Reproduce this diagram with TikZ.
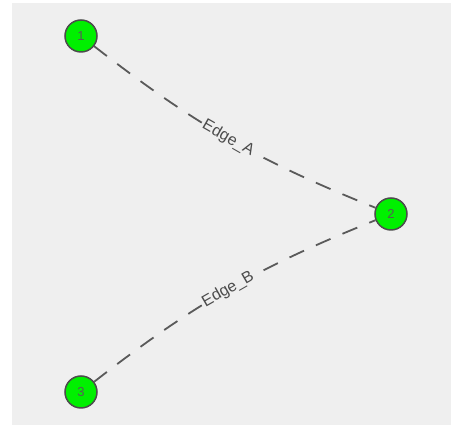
\documentclass[tikz,border=0pt]{standalone}
\usepackage{fontspec}
\setmainfont{Liberation Sans}
\usetikzlibrary{backgrounds}
\definecolor{bg}{RGB}{239,239,239}
\definecolor{nodegreen}{RGB}{0,240,0}
\definecolor{edgegray}{RGB}{90,90,90}
\definecolor{labelgray}{RGB}{75,75,75}
\tikzset{
  vertex/.style={circle, draw=black!70, line width=1.5pt, fill=nodegreen, minimum size=32pt, inner sep=0pt, font=\fontsize{13}{13}\selectfont, text=black!65},
  link/.style={draw=edgegray, line width=1.8pt, dash pattern=on 16pt off 13pt},
  elabel/.style={sloped, fill=bg, inner sep=1.5pt, text=labelgray, font=\fontsize{16}{16}\selectfont}
}
\begin{document}
\begin{tikzpicture}[x=1pt,y=1pt]
\useasboundingbox (0,0) rectangle (451,425);
\node[vertex] (n1) at (81,389) {1};
\node[vertex] (n2) at (391,211) {2};
\node[vertex] (n3) at (81,33) {3};
\begin{scope}[on background layer]
\fill[white] (0,0) rectangle (451,425);
\fill[bg] (12,0) rectangle (451,422);
\draw[link] (n1) to[bend right=8] node[elabel] (la) {Edge\_A} (n2);
\draw[link] (n3) to[bend left=8] node[elabel] (lb) {Edge\_B} (n2);
\end{scope}
\end{tikzpicture}
\end{document}
